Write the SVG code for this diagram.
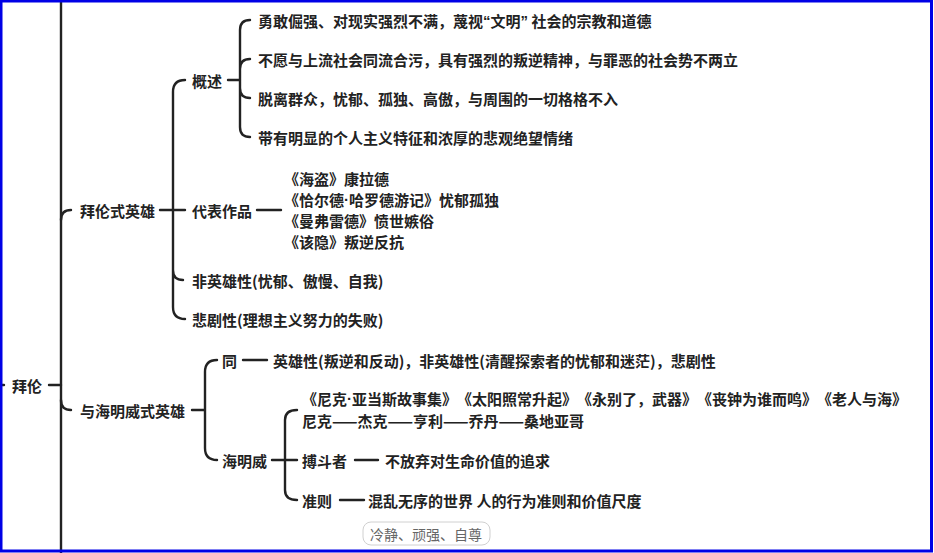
<svg xmlns="http://www.w3.org/2000/svg" width="934" height="553" viewBox="0 0 934 553">
<style>
.t{font-family:"Noto Sans CJK SC","Noto Sans",sans-serif;font-size:15px;font-weight:bold;fill:#222;dominant-baseline:central;text-spacing-trim:space-all}
.c{fill:none;stroke:#222;stroke-width:2.4;stroke-linecap:round}
.n{font-family:"Noto Sans CJK SC","Noto Sans",sans-serif;font-size:14px;fill:#666;dominant-baseline:central;text-spacing-trim:space-all}
.l{font-family:"Liberation Sans",sans-serif}
</style>
<rect x="0" y="0" width="934" height="553" fill="#fff"/>
<g id="connectors">
<path class="c" d="M0,385 L4,385 M49,385 L61,385"/>
<path class="c" d="M61,0 L61,553"/>
<path class="c" d="M61,220 Q61,210 71,210 M61,400 Q61,410 71,410"/>
<path class="c" d="M160,210 L185,210 M173,92 Q173,80 185,80 M173,92 L173,307 Q173,319 185,319 M173,270 Q173,280 183,280"/>
<path class="c" d="M257,210 L281,210"/>
<path class="c" d="M228,80 L240,80 M240,30 Q240,20 250,20 M240,30 L240,127 Q240,137 250,137 M240,69 Q240,59 250,59 M240,88 Q240,98 250,98"/>
<path class="c" d="M192,410 L205,410 M205,372 Q205,360 217,360 M205,372 L205,448 Q205,460 217,460"/>
<path class="c" d="M243,360 L267,360"/>
<path class="c" d="M272,460 L297,460 M285,420 Q285,410 297,410 M285,420 L285,490 Q285,500 297,500"/>
<path class="c" d="M355,460 L378,460 M340,500 L364,500"/>
</g>
<g id="root"><text class="t" x="12" y="385">拜伦</text></g>
<g id="n1"><text class="t" x="80" y="210">拜伦式英雄</text></g>
<g id="n2"><text class="t" x="80" y="410">与海明威式英雄</text></g>
<g id="n1a"><text class="t" x="192" y="80">概述</text></g>
<g id="n1a1"><text class="t" x="258" y="20">勇敢倔强、对现实强烈不满，蔑视<tspan class="l">“</tspan>文明<tspan class="l">”</tspan> 社会的宗教和道德</text></g>
<g id="n1a2"><text class="t" x="258" y="59">不愿与上流社会同流合污，具有强烈的叛逆精神，与罪恶的社会势不两立</text></g>
<g id="n1a3"><text class="t" x="258" y="98">脱离群众，忧郁、孤独、高傲，与周围的一切格格不入</text></g>
<g id="n1a4"><text class="t" x="258" y="137">带有明显的个人主义特征和浓厚的悲观绝望情绪</text></g>
<g id="n1b"><text class="t" x="192" y="210">代表作品</text></g>
<g id="n1b1">
<text class="t" x="284" y="178">《海盗》康拉德</text>
<text class="t" x="284" y="199">《恰尔德<tspan class="l">·</tspan>哈罗德游记》忧郁孤独</text>
<text class="t" x="284" y="220">《曼弗雷德》愤世嫉俗</text>
<text class="t" x="284" y="241">《该隐》叛逆反抗</text>
</g>
<g id="n1c"><text class="t" x="192" y="280">非英雄性(忧郁、傲慢、自我)</text></g>
<g id="n1d"><text class="t" x="192" y="319">悲剧性(理想主义努力的失败)</text></g>
<g id="n2a"><text class="t" x="222" y="360">同</text></g>
<g id="n2a1"><text class="t" x="273" y="360">英雄性(叛逆和反动)，非英雄性(清醒探索者的忧郁和迷茫)，悲剧性</text></g>
<g id="n2b"><text class="t" x="222" y="460">海明威</text></g>
<g id="n2b1">
<text class="t" x="302" y="398">《尼克<tspan class="l">·</tspan>亚当斯故事集》《太阳照常升起》《永别了，武器》《丧钟为谁而鸣》《老人与海》</text>
<text class="t" x="302" y="420">尼克——杰克——亨利——乔丹——桑地亚哥</text>
</g>
<g id="n2b2"><text class="t" x="302" y="460">搏斗者</text></g>
<g id="n2b2a"><text class="t" x="385" y="460">不放弃对生命价值的追求</text></g>
<g id="n2b3"><text class="t" x="302" y="500">准则</text></g>
<g id="n2b3a"><text class="t" x="368" y="500">混乱无序的世界 人的行为准则和价值尺度</text></g>
<g id="note">
<rect x="363" y="522" width="127" height="23" rx="8" fill="#fff" stroke="#d0d0d0" stroke-width="1"/>
<text class="n" x="370" y="534">冷静、顽强、自尊</text>
</g>
<rect x="1" y="1" width="930.5" height="550" fill="none" stroke="#0000e6" stroke-width="3"/>
</svg>
